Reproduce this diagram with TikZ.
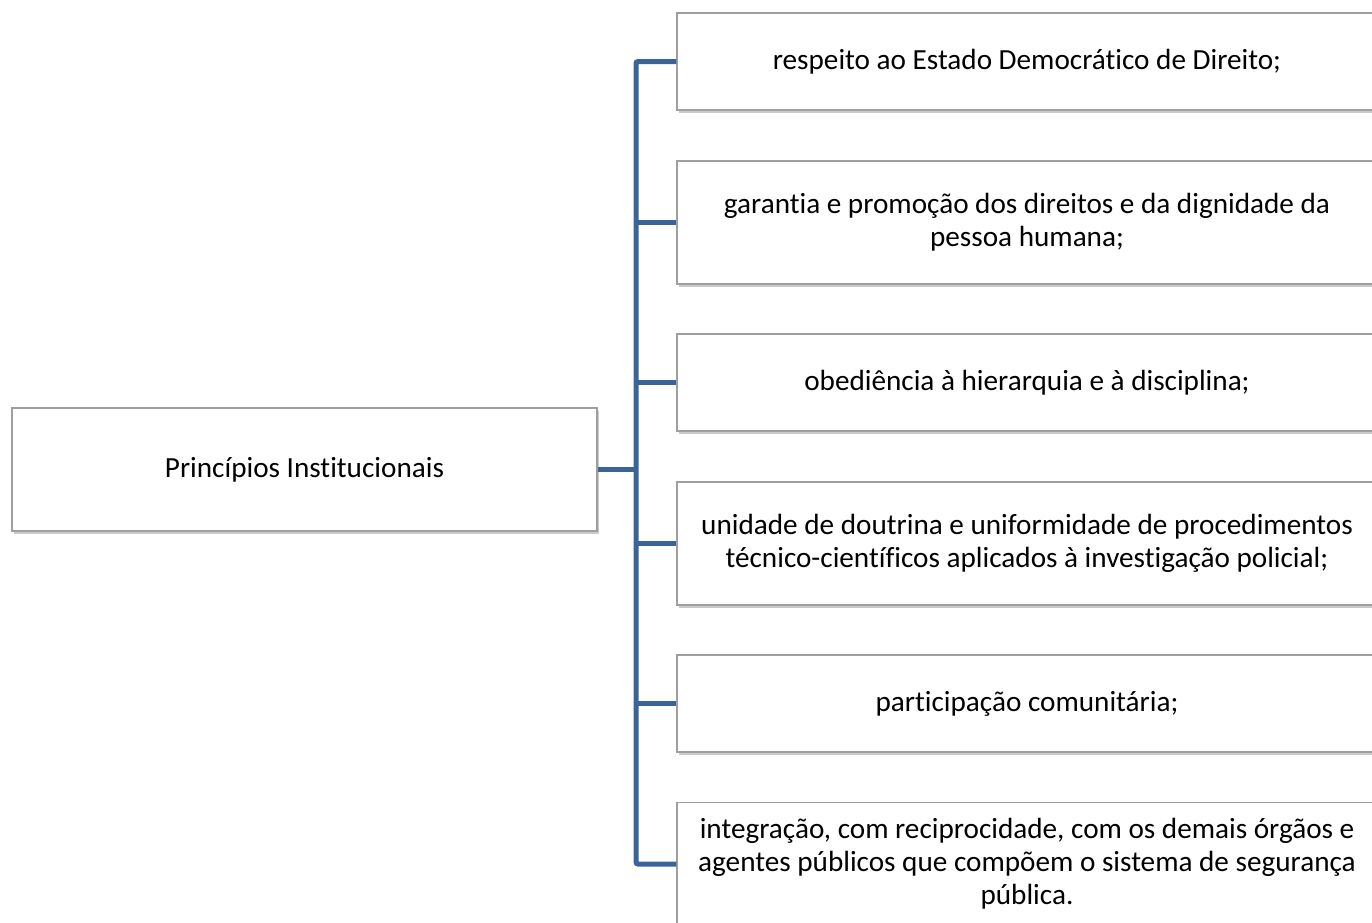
\documentclass[tikz,border=0pt]{standalone}
\usepackage{fontspec}
\setmainfont{Carlito}[Ligatures=NoCommon]
\usetikzlibrary{positioning, shadows}
\definecolor{busblue}{RGB}{59,100,150}

\begin{document}
\begin{tikzpicture}[x=0.5pt, y=-0.5pt,
    item/.style={draw=gray!75, fill=white, line width=0.6pt, align=center, inner sep=0pt,
      minimum width=350pt, font=\fontsize{14.6}{16.5}\selectfont,
      drop shadow={shadow xshift=1pt, shadow yshift=-1.5pt, opacity=0.35, fill=black!60}},
    short/.style={item, minimum height=48.5pt},
    tall/.style={item, minimum height=61.5pt},
    link/.style={busblue, line width=2.5pt, rounded corners=1pt}]
    \useasboundingbox (0,0) rectangle (1372,922);
    \clip (0,0) rectangle (1372,922);
    \node[tall, minimum width=292.5pt] (root) at (304.5,469.5) {Princípios Institucionais};
    \node[short] (b1) at (1027,61.5) {respeito ao Estado Democrático de Direito;};
    \node[tall] (b2) at (1027,222.5) {garantia e promoção dos direitos e da dignidade da\\pessoa humana;};
    \node[short] (b3) at (1027,382.5) {obediência à hierarquia e à disciplina;};
    \node[tall] (b4) at (1027,543.5) {unidade de doutrina e uniformidade de procedimentos\\técnico-científicos aplicados à investigação policial;};
    \node[short] (b5) at (1027,703.5) {participação comunitária;};
    \node[tall] (b6) at (1027,864) {integração, com reciprocidade, com os demais órgãos e\\agentes públicos que compõem o sistema de segurança\\pública.};
    \coordinate (bus) at (636,469.5);
    \draw[link] (b1.west) -| (bus) |- (b6.west);
    \foreach \b in {b2,b3,b4,b5}
        \draw[link] (bus |- \b.west) -- (\b.west);
    \draw[link] (root.east) -- (bus);
\end{tikzpicture}
\end{document}
